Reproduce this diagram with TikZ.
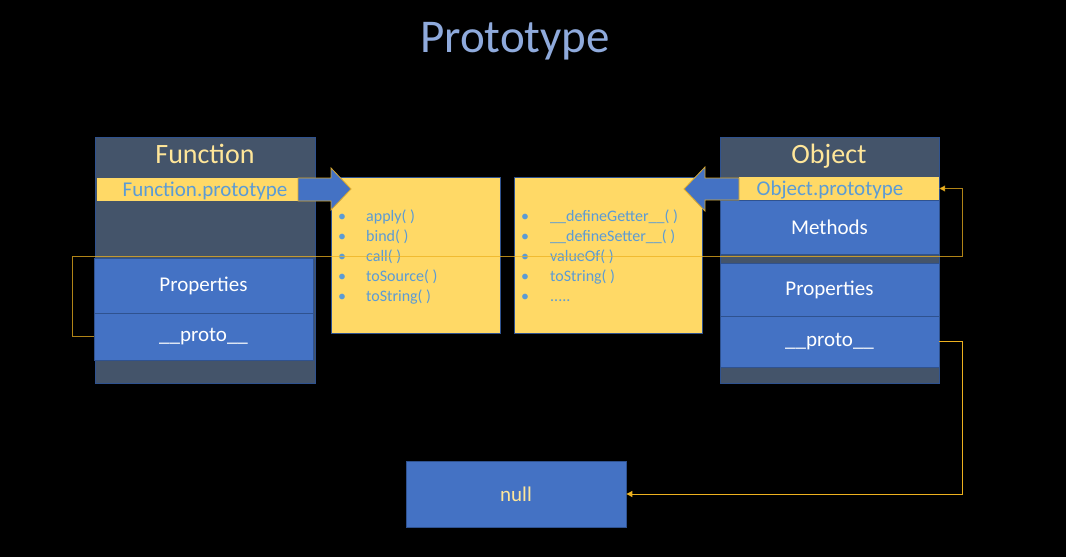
\documentclass[tikz,border=0pt]{standalone}
\usepackage{fontspec}
\setmainfont{Carlito}
\usetikzlibrary{arrows.meta}
\definecolor{slate}{HTML}{44546A}
\definecolor{bblue}{HTML}{4472C4}
\definecolor{bborder}{HTML}{2F528F}
\definecolor{pyellow}{HTML}{FFD966}
\definecolor{tyellow}{HTML}{FFE699}
\definecolor{lblue}{HTML}{5B9BD5}
\definecolor{titleblue}{HTML}{8FAADC}
\definecolor{gold}{HTML}{EDB11F}
\definecolor{arrowedge}{HTML}{D9A82E}
\begin{document}
\begin{tikzpicture}[x=1pt,y=-1pt,
  darkbox/.style={draw=bborder,line width=0.6pt,fill=slate,inner sep=0pt,minimum width=#1},
  bluebox/.style={draw=bborder,line width=0.8pt,fill=bblue,inner sep=0pt,text=white,font=\fontsize{21}{24}\selectfont},
  protobar/.style={fill=pyellow,inner sep=0pt,text=lblue,font=\fontsize{21}{24}\selectfont,text height=15.5pt,text depth=2.5pt},
  methbox/.style={draw=bborder,line width=0.6pt,fill=pyellow,inner sep=0pt},
  boxtitle/.style={text=tyellow,font=\fontsize{28}{32}\selectfont,inner sep=0pt,anchor=base},
  bigarrow/.style={fill=bblue,draw=arrowedge,line width=0.8pt},
  listtext/.style={text=lblue,font=\fontsize{16}{20}\selectfont,inner sep=0pt,anchor=north west},
  loopline/.style={draw=gold,draw opacity=0.75,line width=1pt,-{Triangle[length=6pt,width=6pt]}},
  nullline/.style={draw=gold,line width=1pt,-{Triangle[length=6pt,width=6pt]}}
]
% background
\fill[black] (0,0) rectangle (1066,557);
\useasboundingbox (0,0) rectangle (1066,557);

% title
\node[text=titleblue,font=\fontsize{47}{52}\selectfont,inner sep=0pt] (title) at (515,41) {Prototype};

% Function column
\node[darkbox=220pt,minimum height=246pt] (fbox) at (205,260) {};
\node[boxtitle] (ftitle) at (205,163) {Function};
\node[protobar,minimum width=201pt,minimum height=23pt] (fpbar) at (197.5,189.5) {\hspace*{15pt}Function.prototype};
\node[bluebox,minimum width=219pt,minimum height=55pt] (fprop) at (203.5,285.5) {Properties};
\node[bluebox,minimum width=219pt,minimum height=47pt] (fproto) at (203.5,336.5) {\_\_proto\_\_};

% Object column
\node[darkbox=219pt,minimum height=246pt] (obox) at (829.5,260) {};
\node[boxtitle] (otitle) at (829,163) {Object};
\node[protobar,minimum width=200pt,minimum height=23pt] (opbar) at (839,188.5) {Object.prototype\hspace*{18pt}};
\node[bluebox,minimum width=219pt,minimum height=54pt] (ometh) at (829.5,227) {Methods};
\node[bluebox,minimum width=219pt,minimum height=53pt] (oprop) at (829.5,289.5) {Properties};
\node[bluebox,minimum width=219pt,minimum height=51pt] (oproto) at (829.5,341.5) {\_\_proto\_\_};

% method boxes
\node[methbox,minimum width=169pt,minimum height=156pt] (m1) at (415.5,255) {};
\node[methbox,minimum width=188pt,minimum height=156pt] (m2) at (608,255) {};
\node[listtext] (l1) at (338,207) {\begin{tabular}{@{}p{28pt}@{}l@{}}
\textbullet & apply( )\\
\textbullet & bind( )\\
\textbullet & call( )\\
\textbullet & toSource( )\\
\textbullet & toString( )
\end{tabular}};
\node[listtext] (l2) at (521,207) {\begin{tabular}{@{}p{29pt}@{}l@{}}
\textbullet & \_\_defineGetter\_\_( )\\
\textbullet & \_\_defineSetter\_\_( )\\
\textbullet & valueOf( )\\
\textbullet & toString( )\\
\textbullet & .....
\end{tabular}};

% block arrows
\draw[bigarrow] (298,178) -- (331,178) -- (331,168) -- (351,189) -- (331,210) -- (331,201) -- (298,201) -- cycle;
\draw[bigarrow] (739,178) -- (705,178) -- (705,167) -- (684,189) -- (705,211) -- (705,200) -- (739,200) -- cycle;

% null
\node[bluebox,text=tyellow,minimum width=220pt,minimum height=66pt] (null) at (516,494) {null};

% connectors
\coordinate (c1) at (72,336.5);
\coordinate (c2) at (72,256);
\coordinate (c3) at (962,256);
\draw[loopline] (fproto.west) -- (c1) -- (c2) -- (c3) |- (opbar.east);
\coordinate (c4) at (962,341.5);
\draw[nullline] (oproto.east) -- (c4) |- (null.east);
\end{tikzpicture}
\end{document}
